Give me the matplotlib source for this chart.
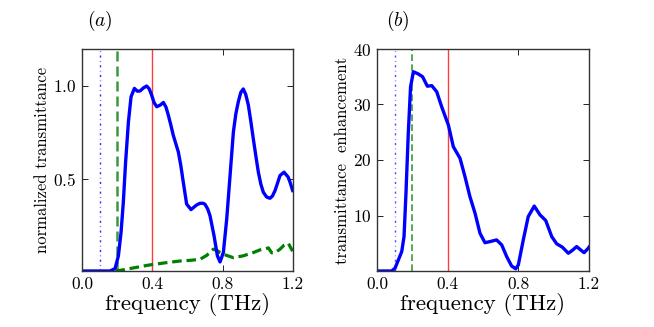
import matplotlib
matplotlib.use("Agg")
import matplotlib.pyplot as plt

plt.rcParams["font.family"] = "serif"
plt.rcParams["font.serif"] = ["cmr10", "DejaVu Serif"]
plt.rcParams["mathtext.fontset"] = "cm"
plt.rcParams["axes.formatter.use_mathtext"] = True

# panel (a): normalized transmittance
freq_a = [0.0, 0.10, 0.159, 0.188, 0.207, 0.222, 0.235, 0.248, 0.264, 0.279, 0.298,
          0.315, 0.33, 0.35, 0.368, 0.382, 0.396, 0.41, 0.425, 0.445, 0.463, 0.478,
          0.491, 0.505, 0.519, 0.533, 0.548, 0.562, 0.576, 0.595, 0.62, 0.652, 0.671,
          0.69, 0.70, 0.715, 0.728, 0.751, 0.77, 0.785, 0.804, 0.823, 0.842, 0.861,
          0.875, 0.889, 0.903, 0.917, 0.931, 0.946, 0.96, 0.974, 0.989, 1.003, 1.017,
          1.031, 1.05, 1.069, 1.083, 1.098, 1.112, 1.126, 1.149, 1.173, 1.185, 1.198]
trans_a = [0.0, 0.0, 0.0, 0.013, 0.082, 0.208, 0.371, 0.589, 0.806, 0.942, 0.987,
           0.972, 0.973, 0.99, 1.0, 0.985, 0.951, 0.91, 0.888, 0.897, 0.911, 0.885,
           0.842, 0.79, 0.734, 0.69, 0.643, 0.57, 0.48, 0.362, 0.332, 0.357, 0.366,
           0.366, 0.36, 0.335, 0.299, 0.19, 0.082, 0.049, 0.1, 0.281, 0.516, 0.752,
           0.85, 0.915, 0.965, 0.984, 0.955, 0.897, 0.81, 0.716, 0.62, 0.534, 0.47,
           0.426, 0.40, 0.393, 0.405, 0.435, 0.475, 0.516, 0.534, 0.507, 0.475, 0.435]

freq_ref = [0.19, 0.226, 0.30, 0.368, 0.40, 0.48, 0.557, 0.62, 0.671, 0.71, 0.747,
            0.765, 0.785, 0.82, 0.861, 0.917, 0.975, 1.012, 1.045, 1.06, 1.079, 1.10,
            1.126, 1.15, 1.173, 1.198]
trans_ref = [0.0, 0.005, 0.018, 0.03, 0.035, 0.045, 0.054, 0.058, 0.063, 0.085, 0.118,
             0.112, 0.10, 0.085, 0.072, 0.082, 0.10, 0.114, 0.12, 0.125, 0.098, 0.10,
             0.118, 0.14, 0.15, 0.107]

# panel (b): transmittance enhancement
freq_b = [0.0, 0.083, 0.102, 0.121, 0.14, 0.153, 0.164, 0.177, 0.19, 0.206, 0.234,
          0.258, 0.285, 0.31, 0.338, 0.366, 0.404, 0.432, 0.47, 0.498, 0.526, 0.555,
          0.583, 0.611, 0.64, 0.677, 0.706, 0.734, 0.762, 0.785, 0.80, 0.828, 0.856,
          0.89, 0.923, 0.955, 0.989, 1.017, 1.049, 1.083, 1.105, 1.13, 1.149, 1.172,
          1.196, 1.2]
enh_b = [0.0, 0.0, 0.5, 2.0, 3.5, 6.2, 14.0, 24.8, 33.2, 35.9, 35.5,
         35.0, 33.3, 33.4, 32.3, 29.6, 26.3, 22.4, 20.3, 17.0, 13.4, 10.4,
         6.8, 5.1, 5.3, 5.6, 4.7, 2.6, 0.9, 0.4, 1.1, 5.6, 9.8,
         11.7, 10.1, 9.1, 6.2, 4.9, 4.3, 3.2, 3.7, 4.4, 3.9, 3.3,
         4.1, 4.3]

F_BLUE = 0.1
F_GREEN = 0.2
F_RED = 0.4

fig = plt.figure(figsize=(6.54, 3.27), dpi=100)
ax_a = fig.add_axes([82 / 654, 56 / 327, 211 / 654, 222 / 327])
ax_b = fig.add_axes([377 / 654, 56 / 327, 212 / 654, 222 / 327])

ax_a.axvline(F_BLUE, color="#2a2aff", linestyle=(0, (1.5, 2.5, 0.5, 2.5)), linewidth=1.0)
ax_a.axvline(F_GREEN, color="#3a9a3a", linestyle=(0, (4, 2)), linewidth=1.8)
ax_a.axvline(F_RED, color="#ff3b3b", linewidth=1.0)
ax_a.plot(freq_ref, trans_ref, color="#008000", linestyle=(0, (3, 1.5)), linewidth=2.3)
ax_a.plot(freq_a, trans_a, color="#0000ff", linewidth=2.4, solid_joinstyle="round")
ax_a.set_xlim(0, 1.2)
ax_a.set_ylim(0, 1.2)
ax_a.set_xticks([0.0, 0.4, 0.8, 1.2])
ax_a.set_yticks([0.5, 1.0])
ax_a.set_ylabel("normalized transmittance", fontsize=12, labelpad=2)
ax_a.set_xlabel("frequency (THz)", fontsize=16.5, labelpad=1)
ax_a.text(0.085, 1.07, "$(a)$", transform=ax_a.transAxes, fontsize=14,
          ha="center", va="bottom")

ax_b.axvline(F_BLUE, color="#4a4aff", linestyle=(0, (1.5, 2.5, 0.5, 2.5)), linewidth=1.0)
ax_b.axvline(F_GREEN, color="#3a9a3a", linestyle=(0, (4, 2)), linewidth=1.2)
ax_b.axvline(F_RED, color="#ff3b3b", linewidth=1.0)
ax_b.plot(freq_b, enh_b, color="#0000ff", linewidth=2.4, solid_joinstyle="round")
ax_b.set_xlim(0, 1.2)
ax_b.set_ylim(0, 40)
ax_b.set_xticks([0.0, 0.4, 0.8, 1.2])
ax_b.set_yticks([10, 20, 30, 40])
ax_b.set_ylabel("transmittance  enhancement", fontsize=12, labelpad=2)
ax_b.set_xlabel("frequency (THz)", fontsize=16.5, labelpad=1)
ax_b.text(0.1, 1.07, "$(b)$", transform=ax_b.transAxes, fontsize=14,
          ha="center", va="bottom")

for ax in (ax_a, ax_b):
    ax.tick_params(direction="in", top=True, right=True, length=4, width=0.6,
                   labelsize=12.5, pad=4)
    for sp in ax.spines.values():
        sp.set_linewidth(1.0)
        sp.set_color("#333333")
    ax.xaxis.set_major_formatter(matplotlib.ticker.FormatStrFormatter("%.1f"))

fig.savefig("out.png", dpi=100, facecolor="white")
